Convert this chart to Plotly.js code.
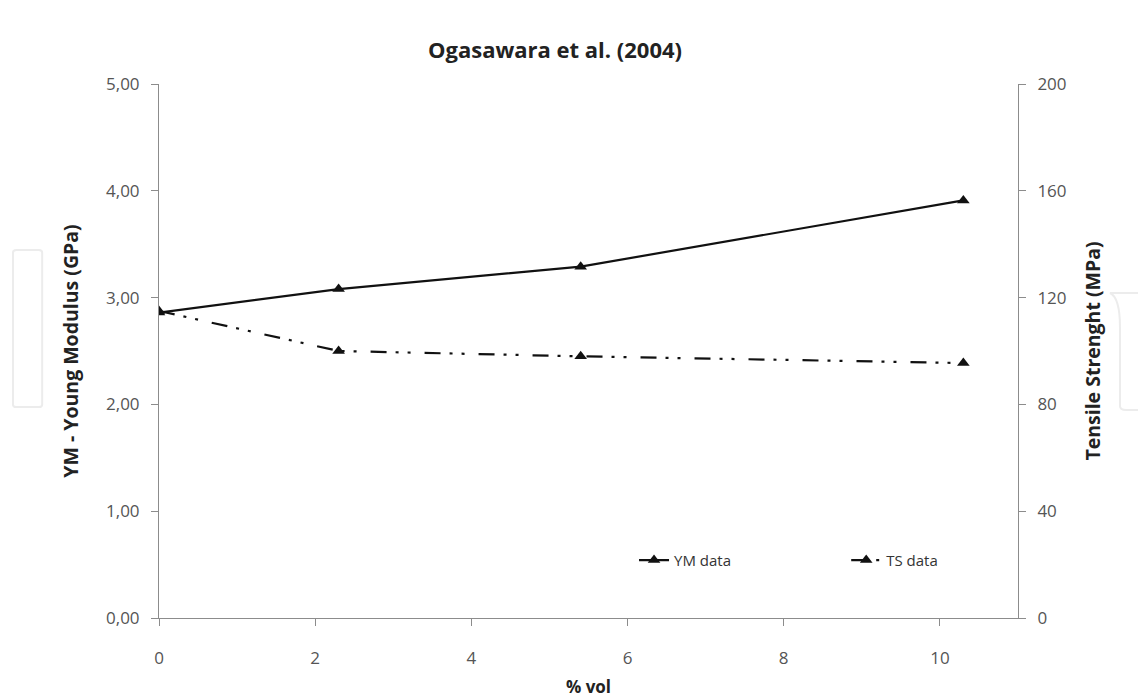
<!DOCTYPE html>
<html>
<head>
<meta charset="utf-8">
<script src="https://cdn.plot.ly/plotly-3.0.1.min.js"></script>
<style>html,body{margin:0;padding:0;background:#fff;}#chart{width:1138px;height:698px;}</style>
</head>
<body>
<div id="chart"></div>
<script>
const volPct = [0, 2.3, 5.4, 10.3];
const ymData = [2.86, 3.08, 3.29, 3.91];
const tsData = [115, 100, 98, 95.5];
const xTicks = [0, 2, 4, 6, 8, 10];
const yTicks = [0, 1, 2, 3, 4, 5];
const y2Ticks = [0, 40, 80, 120, 160, 200];

const font = "Open Sans, Noto Sans, sans-serif";
const traces = [
  {x: volPct, y: ymData, name: 'YM data', type: 'scatter', mode: 'lines+markers', legend: 'legend',
   line: {color: '#111', width: 2.2},
   marker: {symbol: 'triangle-up', size: 11, color: '#111'}},
  {x: volPct, y: tsData, name: 'TS data', type: 'scatter', mode: 'lines+markers', yaxis: 'y2', legend: 'legend2',
   line: {color: '#111', width: 2.2, dash: '16px,9px,3px,9px,3px,14px'},
   marker: {symbol: 'triangle-up', size: 11, color: '#111'}}
];
const axisCommon = {
  showgrid: false, zeroline: false, showline: true, linecolor: '#8c8c8c', linewidth: 1,
  ticks: 'outside', ticklen: 7, tickcolor: '#8c8c8c', automargin: false,
  tickfont: {family: font, size: 17, color: '#555'}
};
const legendCommon = {font: {family: font, size: 15, color: '#333'}, bgcolor: 'rgba(0,0,0,0)',
                      yanchor: 'middle', xanchor: 'left', y: 0.108, orientation: 'h'};
const layout = {
  width: 1138, height: 698,
  paper_bgcolor: '#fff', plot_bgcolor: '#fff',
  margin: {l: 159, r: 120, t: 84, b: 80},
  separators: ',.',
  title: {text: '<b>Ogasawara et al. (2004)</b>', x: 0.4877, xanchor: 'center', y: 0.928, yanchor: 'middle',
          font: {family: font, size: 22, color: '#222'}},
  xaxis: Object.assign({}, axisCommon, {
    range: [0, 11], tickvals: xTicks, ticktext: xTicks.map(String), ticklabelstandoff: 18,
    title: {text: '<b>% vol</b>', font: {family: font, size: 17, color: '#222'}, standoff: 24}
  }),
  yaxis: Object.assign({}, axisCommon, {
    range: [0, 5], tickvals: yTicks, tickformat: '.2f', ticklabelstandoff: 8,
    title: {text: '<b>YM - Young Modulus (GPa)</b>', font: {family: font, size: 19.5, color: '#222'}, standoff: 22}
  }),
  yaxis2: Object.assign({}, axisCommon, {
    overlaying: 'y', side: 'right', range: [0, 200], tickvals: y2Ticks, ticklabelstandoff: 8,
    title: {text: '<b>Tensile Strenght (MPa)</b>', font: {family: font, size: 19.5, color: '#222'}, standoff: 20}
  }),
  legend: Object.assign({}, legendCommon, {x: 0.553}),
  legend2: Object.assign({}, legendCommon, {x: 0.8}),
  showlegend: true,
  shapes: [
    {type: 'path', xref: 'paper', yref: 'paper',
     path: 'M -0.170 0.40 L -0.170 0.684 Q -0.170 0.689 -0.166 0.689 L -0.140 0.689 Q -0.136 0.689 -0.136 0.684 L -0.136 0.40 Q -0.136 0.395 -0.140 0.395 L -0.166 0.395 Q -0.170 0.395 -0.170 0.40 Z',
     line: {color: '#ececec', width: 2}},
    {type: 'path', xref: 'paper', yref: 'paper',
     path: 'M 1.142 0.6086 L 1.1071 0.6086 Q 1.1187 0.6 1.1187 0.545 L 1.1187 0.397 Q 1.1187 0.3895 1.126 0.3895 L 1.142 0.3895',
     line: {color: '#ececec', width: 2}}
  ]
};
Plotly.newPlot('chart', traces, layout, {displayModeBar: false, staticPlot: true});
</script>
</body>
</html>
